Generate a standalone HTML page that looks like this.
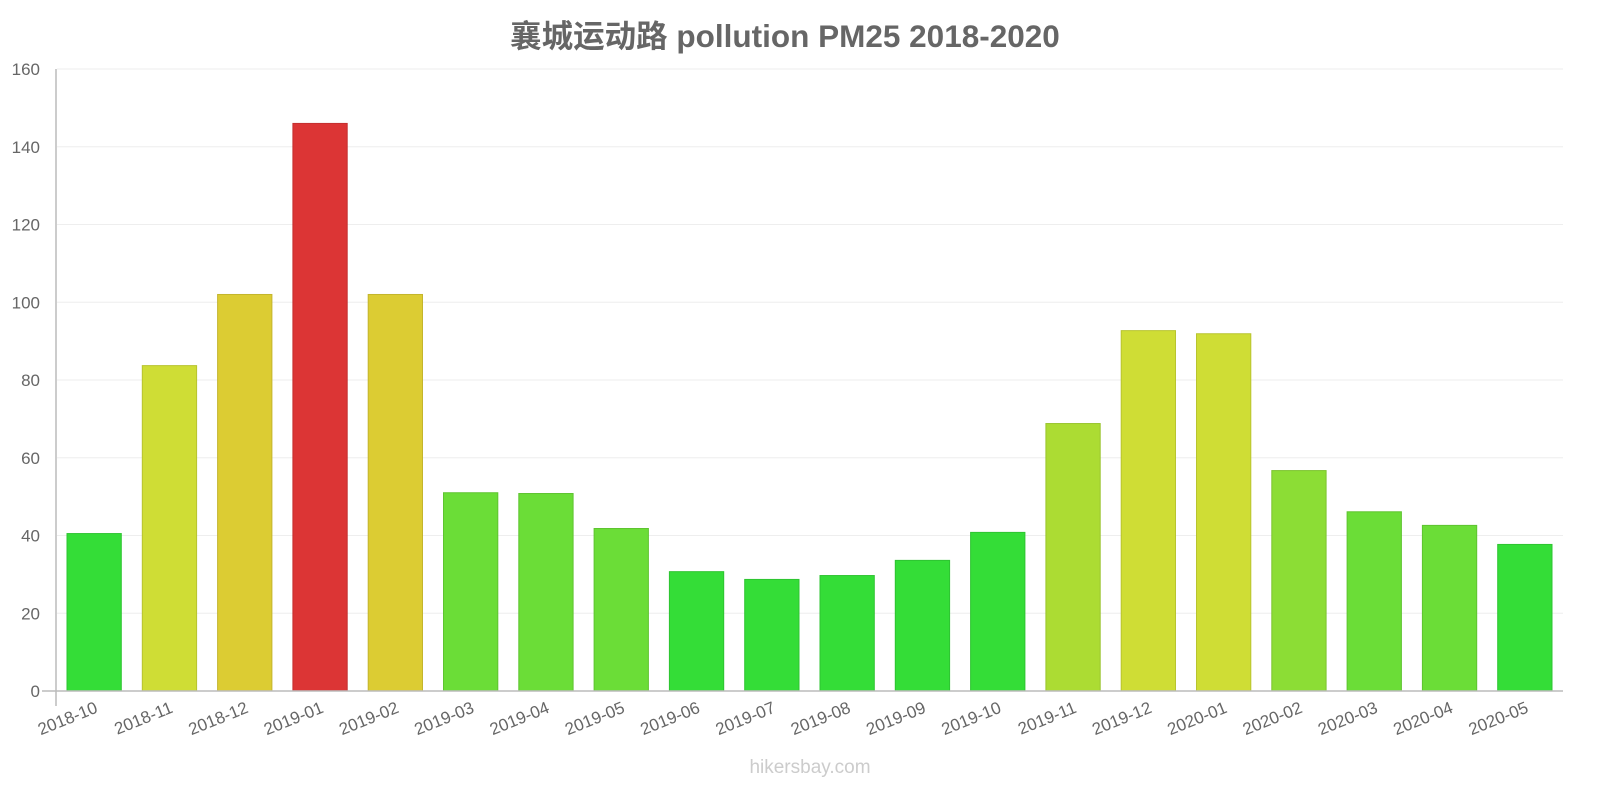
<!DOCTYPE html>
<html><head><meta charset="utf-8"><style>
body{margin:0;background:#fff;}
svg text{font-family:"Liberation Sans","Noto Sans CJK SC",sans-serif;}
</style></head><body>
<svg id="chart" width="1600" height="800">
<text x="785" y="47" text-anchor="middle" font-size="31.5" font-weight="bold" fill="#666">襄城运动路 pollution PM25 2018-2020</text>
<text x="810" y="773" text-anchor="middle" font-size="19" fill="#ccc">hikersbay.com</text>
<g id="grid"></g><g id="bars"></g><g id="axes"></g>
</svg>
<script>
const categories=["2018-10","2018-11","2018-12","2019-01","2019-02","2019-03","2019-04","2019-05","2019-06","2019-07","2019-08","2019-09","2019-10","2019-11","2019-12","2020-01","2020-02","2020-03","2020-04","2020-05"];
const values=[40.5,83.7,102,146,102,51,50.8,41.8,30.7,28.7,29.7,33.6,40.8,68.8,92.7,91.9,56.7,46.1,42.6,37.7];
const yTicks=[0,20,40,60,80,100,120,140,160];
const NS="http://www.w3.org/2000/svg";
const x0=57,x1=1563,y0=691,yTop=69,yMax=160;
const slot=(x1-x0)/categories.length;
function y(v){return y0-(v/yMax)*(y0-yTop);}
function xs(i){return x0+i*slot;}
function color(v){
 if(v<=41)return["#34dd37","#2ec431"];
 if(v<=52)return["#6bdd37","#5ec430"];
 if(v<=60)return["#8cdd35","#7cc42f"];
 if(v<=75)return["#acdc33","#99c42d"];
 if(v<=95)return["#cfdd35","#b8c42f"];
 if(v<=120)return["#dccc33","#c4b52d"];
 return["#dc3535","#c42f2f"];}
function mk(t,a,p){const e=document.createElementNS(NS,t);for(const k in a)e.setAttribute(k,a[k]);p.appendChild(e);return e;}
const grid=document.getElementById('grid'),bars=document.getElementById('bars'),axes=document.getElementById('axes');
yTicks.forEach(t=>{
 const l=mk('line',{x1:x0,x2:x1,y1:y(t),y2:y(t),stroke:'#eee','stroke-width':1},grid);
 
 
 const tx=mk('text',{x:40,y:y(t)+6,'text-anchor':'end','font-size':17,fill:'#666'},axes);
 tx.textContent=t;
 
 
});
values.forEach((v,i)=>{
 const c=color(v);
 const r=mk('rect',{x:xs(i)+10,y:y(v),width:slot-21,height:y0-y(v),fill:c[0],stroke:c[1],'stroke-width':1},bars);
 
 
 const cx=xs(i)+slot/2+4;
 const tx=mk('text',{x:cx,y:712,'text-anchor':'end','font-size':17,fill:'#666',transform:`rotate(-22 ${cx} 712)`},axes);
 tx.textContent=categories[i];
 
 
});
const ya=mk('line',{x1:x0-1,x2:x0-1,y1:yTop,y2:y0+15,stroke:'#bbb','stroke-width':1.5},axes);


const xa=mk('line',{x1:x0-15,x2:x1,y1:y0,y2:y0,stroke:'#bbb','stroke-width':1.5},axes);


</script>
</body></html>
